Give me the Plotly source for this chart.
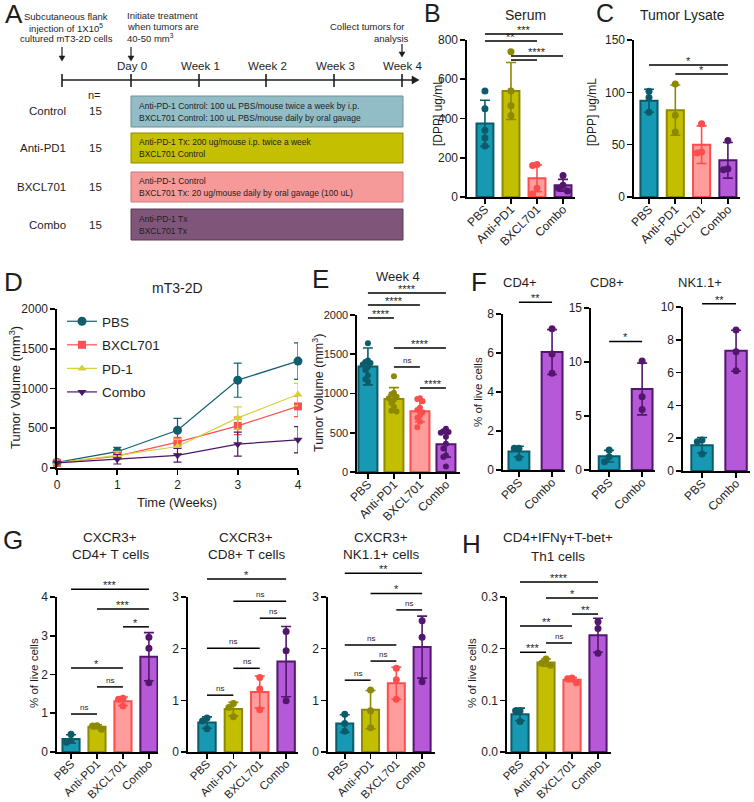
import plotly.graph_objects as go

W, H = 754, 802
FONT = "Arial, 'Liberation Sans', Helvetica, sans-serif"
INK = "#1e1e1e"

# ---------------- data ----------------
groups4 = ["PBS", "Anti-PD1", "BXCL701", "Combo"]
groups2 = ["PBS", "Combo"]

# A: study design
design_groups = ["Control", "Anti-PD1", "BXCL701", "Combo"]
design_n = ["15", "15", "15", "15"]
design_line1 = ["Anti-PD-1 Control: 100 uL PBS/mouse twice a week by i.p.",
                "Anti-PD-1 Tx: 200 ug/mouse i.p. twice a week",
                "Anti-PD-1 Control",
                "Anti-PD-1 Tx"]
design_line2 = ["BXCL701 Control: 100 uL PBS/mouse daily by oral gavage",
                "BXCL701 Control",
                "BXCL701 Tx: 20 ug/mouse daily by oral gavage (100 uL)",
                "BXCL701 Tx"]
timeline_labels = ["Day 0", "Week 1", "Week 2", "Week 3", "Week 4"]

# B: serum DPP
serum_mean = [375, 540, 95, 60]
serum_sd = [118, 145, 68, 30]
serum_pts = [[540, 450, 340, 300, 260], [740, 540, 465, 415], [165, 160, 45, 15], [110, 60, 45, 30]]
serum_sig = [(0, 3, 831, "***"), (0, 2, 795, "**"), (1, 3, 719, "****"), (1, 2, 698, "")]

# C: tumor lysate DPP
lysate_mean = [92, 83, 50, 35]
lysate_sd = [11, 24, 18, 17]
lysate_pts = [[101, 95, 81], [108, 78, 62], [70, 43, 42], [54, 27, 26]]
lysate_sig = [(0, 3, 126, "*"), (1, 3, 117.5, "*")]

# D: growth curves
weeks = [0, 1, 2, 3, 4]
d_names = ["PBS", "BXCL701", "PD-1", "Combo"]
vol_pbs = [70, 205, 475, 1105, 1345]
vol_pbs_sd = [15, 55, 150, 215, 230]
vol_bxcl = [65, 150, 325, 530, 775]
vol_bxcl_sd = [15, 40, 60, 110, 130]
vol_pd1 = [65, 160, 270, 630, 925]
vol_pd1_sd = [15, 50, 90, 140, 140]
vol_combo = [65, 110, 160, 300, 355]
vol_combo_sd = [15, 60, 85, 150, 165]

# E: week 4 volumes
wk4_mean = [1345, 930, 775, 355]
wk4_sd = [235, 145, 135, 165]
wk4_pts = [[1640, 1420, 1400, 1390, 1370, 1340, 1300, 1230, 1180, 1150],
           [1220, 1010, 990, 960, 940, 920, 880, 830, 780, 770],
           [940, 930, 900, 820, 790, 760, 720, 690, 640, 570],
           [550, 520, 510, 500, 450, 360, 300, 210, 190, 70]]
wk4_sig = [(0, 3, 2280, "****"), (0, 2, 2127, "****"), (0, 1, 1962, "****"),
           (1, 3, 1580, "****"), (1, 2, 1338, "ns"), (2, 3, 1070, "****")]

# F: immune cells
cd4_mean = [0.95, 6.05]
cd4_sd = [0.27, 1.15]
cd4_pts = [[1.11, 1.11, 0.63], [7.24, 5.95, 4.96]]
cd4_sig = [(0, 1, 8.6, "**")]
cd8_mean = [1.28, 7.5]
cd8_sd = [0.54, 2.4]
cd8_pts = [[1.85, 1.23, 0.77], [10.1, 6.79, 5.6]]
cd8_sig = [(0, 1, 11.9, "*")]
nk_mean = [1.57, 7.33]
nk_sd = [0.47, 1.25]
nk_pts = [[1.89, 1.79, 1.04], [8.6, 7.27, 6.12]]
nk_sig = [(0, 1, 10.2, "**")]

# G: CXCR3+ subsets
g_cd4_mean = [0.335, 0.65, 1.31, 2.46]
g_cd4_sd = [0.11, 0.05, 0.11, 0.62]
g_cd4_pts = [[0.46, 0.3, 0.25], [0.68, 0.67, 0.59], [1.39, 1.36, 1.19], [2.96, 2.68, 1.79]]
g_cd4_sig = [(0, 3, 4.2, "***"), (1, 3, 3.69, "***"), (2, 3, 3.23, "*"),
             (0, 2, 2.17, "*"), (1, 2, 1.68, "ns"), (0, 1, 0.98, "ns")]
g_cd8_mean = [0.57, 0.83, 1.16, 1.75]
g_cd8_sd = [0.11, 0.13, 0.31, 0.68]
g_cd8_pts = [[0.66, 0.6, 0.45], [0.94, 0.86, 0.68], [1.44, 1.22, 0.82], [2.33, 1.96, 0.99]]
g_cd8_sig = [(0, 3, 3.35, "*"), (1, 3, 2.92, "ns"), (2, 3, 2.59, "ns"),
             (0, 2, 2.01, "ns"), (1, 2, 1.62, "ns"), (0, 1, 1.1, "ns")]
g_nk_mean = [0.55, 0.82, 1.33, 2.03]
g_nk_sd = [0.17, 0.37, 0.31, 0.6]
g_nk_pts = [[0.73, 0.55, 0.4], [1.2, 0.8, 0.47], [1.62, 1.4, 1.02], [2.54, 2.22, 1.36]]
g_nk_sig = [(0, 3, 3.46, "**"), (1, 3, 3.07, "*"), (2, 3, 2.75, "ns"),
            (0, 2, 2.07, "ns"), (1, 2, 1.76, "ns"), (0, 1, 1.39, "ns")]

# H: Th1 cells
th1_mean = [0.073, 0.173, 0.14, 0.226]
th1_sd = [0.012, 0.007, 0.004, 0.033]
th1_pts = [[0.08, 0.08, 0.059], [0.18, 0.172, 0.168], [0.143, 0.142, 0.134], [0.252, 0.239, 0.191]]
th1_sig = [(0, 3, 0.329, "****"), (1, 3, 0.298, "*"), (2, 3, 0.267, "**"),
           (0, 2, 0.244, "**"), (1, 2, 0.211, "ns"), (0, 1, 0.193, "***")]

# ---------------- styles ----------------
FILL = {"PBS": "#1899b3", "Anti-PD1": "#c3bf00", "BXCL701": "#ff9d9d", "Combo": "#b659d8"}
EDGE = {"PBS": "#0c5b6b", "Anti-PD1": "#8d8900", "BXCL701": "#ff4d4d", "Combo": "#52176d"}
LINEC = {"PBS": "#0f5f6f", "BXCL701": "#ff5050", "PD-1": "#d4d13a", "Combo": "#4a1868"}
SYMB = {"PBS": "circle", "BXCL701": "square", "PD-1": "triangle-up", "Combo": "triangle-down"}
BOXFILL = ["#92bcc6", "#c4bf00", "#f59a98", "#7f557a"]
BOXEDGE = ["#6f8f97", "#8f8b00", "#c77c7a", "#5b3a57"]

fig = go.Figure()
axes = {}
shapes = []
annots = []


def ppx(x):
    return x / W


def ppy(y):
    return 1 - y / H


def label(x, y, s, size=11, xanchor="center", yanchor="middle", angle=0, color=INK):
    annots.append(dict(x=ppx(x), y=ppy(y), xref="paper", yref="paper", text=s, showarrow=False,
                       textangle=angle, xanchor=xanchor, yanchor=yanchor,
                       font=dict(family=FONT, size=size, color=color)))


def pline(x0, y0, x1, y1, color=INK, width=1.6):
    shapes.append(dict(type="line", xref="paper", yref="paper", x0=ppx(x0), y0=ppy(y0),
                       x1=ppx(x1), y1=ppy(y1), line=dict(color=color, width=width)))


def ppath(points):
    d = "M " + " L ".join(f"{ppx(x):.5f},{ppy(y):.5f}" for x, y in points) + " Z"
    shapes.append(dict(type="path", xref="paper", yref="paper", path=d, fillcolor=INK,
                       line=dict(color=INK, width=0.5)))


def down_arrow(x, y0, y1):
    pline(x, y0, x, y1 - 4, width=1.2)
    ppath([(x - 3, y1 - 5), (x + 3, y1 - 5), (x, y1)])


AXLINE = dict(showline=True, linecolor="black", linewidth=1.6, ticks="outside", ticklen=5,
              tickwidth=1.6, tickcolor="black", showgrid=False, zeroline=False, fixedrange=True)


def ax_names(k):
    s = "" if k == 1 else str(k)
    return "xaxis" + s, "yaxis" + s, "x" + s, "y" + s


def swarm(vals, span, dx):
    placed, xs = [], []
    for v in vals:
        used = {o for pv, o in placed if abs(pv - v) < span}
        for o in (0, -1, 1, -2, 2, -3, 3):
            if o not in used:
                break
        placed.append((v, o))
        xs.append(o * dx)
    return xs


def bar_panel(k, cats, means, sds, pts, sigs, box, xr, yr, ytv, bw=0.66, ms=7, dx=0.17,
              tickfmt=None, tfs=12, yfs=12):
    xa, ya, xid, yid = ax_names(k)
    x0, x1, yt, yb = box
    axes[xa] = dict(AXLINE, domain=[ppx(x0), ppx(x1)], range=xr, anchor=yid, tickmode="array",
                    tickvals=list(range(len(cats))), ticktext=cats, tickangle=-45,
                    ticklabelstandoff=-6,
                    tickfont=dict(family=FONT, size=tfs, color=INK))
    axes[ya] = dict(AXLINE, domain=[ppy(yb), ppy(yt)], range=yr, anchor=xid, tickmode="array",
                    tickvals=ytv, tickfont=dict(family=FONT, size=yfs, color=INK))
    if tickfmt:
        axes[ya]["tickformat"] = tickfmt
    span = 0.04 * (yr[1] - yr[0])
    for i, c in enumerate(cats):
        fig.add_trace(go.Bar(x=[i], y=[means[i]], width=bw, xaxis=xid, yaxis=yid, showlegend=False,
                             marker=dict(color=FILL[c], line=dict(color=EDGE[c], width=2)),
                             error_y=dict(type="data", array=[sds[i]], color=EDGE[c], thickness=1.6, width=5),
                             hoverinfo="skip"))
    for i, c in enumerate(cats):
        offs = swarm(pts[i], span, dx)
        fig.add_trace(go.Scatter(x=[i + o for o in offs], y=pts[i], mode="markers", xaxis=xid, yaxis=yid,
                                 showlegend=False, cliponaxis=False, hoverinfo="skip",
                                 marker=dict(color=EDGE[c], size=ms, line=dict(width=0))))
    d0 = ppy(yb)
    dh = (yb - yt) / H
    for i, j, v, lab in sigs:
        yv = d0 + (v - yr[0]) / (yr[1] - yr[0]) * dh
        shapes.append(dict(type="line", xref=xid, yref="paper", x0=i, x1=j, y0=yv, y1=yv,
                           line=dict(color="black", width=1.5)))
        if lab:
            star = "*" in lab
            annots.append(dict(x=(i + j) / 2, y=yv, xref=xid, yref="paper", text=lab, showarrow=False,
                               xanchor="center", yanchor="bottom", yshift=-4 if star else 0,
                               font=dict(family=FONT, size=11 if star else 8, color=INK)))


# ---------------- Panel A ----------------
label(3, 14, "A", size=26, xanchor="left")
label(66, 17, "Subcutaneous flank", 9.5)
label(66, 27.5, "injection of 1X10<sup>5</sup>", 9.5)
label(66, 38, "cultured mT3-2D cells", 9.5)
label(125, 16, "Initiate treatment", 9.5, xanchor="left")
label(125, 27, "when tumors are", 9.5, xanchor="left")
label(125, 38, "40-50 mm<sup>3</sup>", 9.5, xanchor="left")
label(367, 27, "Collect tumors for", 9.5)
label(391, 38, "analysis", 9.5)
down_arrow(62, 47, 61)
down_arrow(131, 47, 61)
down_arrow(402, 44, 57)
tick_x = [131, 199, 266, 334, 402]
pline(62, 80, 413, 80)
ppath([(412, 76), (412, 84), (419, 80)])
pline(62, 74, 62, 87)
for tx, tl in zip(tick_x, timeline_labels):
    pline(tx, 74, tx, 87)
    label(tx + 1, 66, tl, 11.5)
label(94, 95, "n=", 11)
row_y = [(96, 127), (133, 163), (172, 202), (209, 240)]
for (y0, y1), g, n, l1, l2, fc, ec in zip(row_y, design_groups, design_n, design_line1, design_line2,
                                           BOXFILL, BOXEDGE):
    shapes.append(dict(type="rect", xref="paper", yref="paper", x0=ppx(131), x1=ppx(403),
                       y0=ppy(y1), y1=ppy(y0), fillcolor=fc, line=dict(color=ec, width=1)))
    yc = (y0 + y1) / 2
    label(68, yc, g, 11.5, xanchor="right")
    label(95, yc, n, 11.5)
    label(137, yc - 6, l1, 8.5, xanchor="left")
    label(137, yc + 6, l2, 8.5, xanchor="left")

# ---------------- Panel B & C ----------------
label(432, 13, "B", size=25)
label(525, 15, "Serum", 14)
label(438, 112, "[DPP] ug/mL", 12, angle=-90)
bar_panel(1, groups4, serum_mean, serum_sd, serum_pts, serum_sig, (467, 575, 40, 197),
          [-0.69, 3.46], [0, 800], [0, 200, 400, 600, 800], bw=0.65)

label(605, 13, "C", size=25)
label(682, 15, "Tumor Lysate", 14)
label(592, 112, "[DPP] ug/mL", 12, angle=-90)
bar_panel(2, groups4, lysate_mean, lysate_sd, lysate_pts, lysate_sig, (634, 740, 40, 197),
          [-0.57, 3.46], [0, 150], [0, 50, 100, 150], bw=0.65)

# ---------------- Panel D ----------------
label(13, 282, "D", size=26)
label(177, 288, "mT3-2D", 14)
label(15, 388, "Tumor Volume (mm<sup>3</sup>)", 13, angle=-90)
label(177, 503, "Time (Weeks)", 13)
xa, ya, xid, yid = ax_names(3)
axes[xa] = dict(AXLINE, domain=[ppx(57), ppx(298)], range=[0, 4], anchor=yid, tickmode="array",
                tickvals=weeks, tickfont=dict(family=FONT, size=12, color=INK))
axes[ya] = dict(AXLINE, domain=[ppy(468), ppy(309)], range=[0, 2000], anchor=xid, tickmode="array",
                tickvals=[0, 500, 1000, 1500, 2000], tickfont=dict(family=FONT, size=12, color=INK))
d_vals = [vol_pbs, vol_bxcl, vol_pd1, vol_combo]
d_sds = [vol_pbs_sd, vol_bxcl_sd, vol_pd1_sd, vol_combo_sd]
for name, vals, sds in zip(d_names, d_vals, d_sds):
    col = LINEC[name]
    ms = 9 if name == "PBS" else 8
    fig.add_trace(go.Scatter(x=weeks, y=vals, name=name, mode="lines+markers", xaxis=xid, yaxis=yid,
                             legendgroup=name, cliponaxis=False, hoverinfo="skip",
                             line=dict(color=col, width=1.2),
                             marker=dict(symbol=SYMB[name], size=ms, color=col),
                             error_y=dict(type="data", array=sds, color=col, thickness=1.2, width=4)))

# ---------------- Panel E ----------------
label(320, 279, "E", size=26)
label(398, 276, "Week 4", 13)
label(318, 393, "Tumor Volume (mm<sup>3</sup>)", 12.5, angle=-90)
bar_panel(4, groups4, wk4_mean, wk4_sd, wk4_pts, wk4_sig, (357, 460, 315, 472),
          [-0.42, 3.54], [0, 2000], [0, 500, 1000, 1500, 2000], bw=0.73, ms=6, dx=0.1, yfs=11)

# ---------------- Panel F ----------------
label(479, 282, "F", size=26)
label(520, 283, "CD4+", 13)
label(607, 283, "CD8+", 13)
label(700, 283, "NK1.1+", 13)
label(478, 392, "% of live cells", 11.5, angle=-90)
bar_panel(5, groups2, cd4_mean, cd4_sd, cd4_pts, cd4_sig, (503, 565, 314, 470),
          [-0.48, 1.39], [0, 8], [0, 2, 4, 6, 8], bw=0.63, dx=0.14)
bar_panel(6, groups2, cd8_mean, cd8_sd, cd8_pts, cd8_sig, (591, 655, 308, 470),
          [-0.55, 1.39], [0, 15], [0, 5, 10, 15], bw=0.63, dx=0.14)
bar_panel(7, groups2, nk_mean, nk_sd, nk_pts, nk_sig, (683, 750, 307, 471),
          [-0.56, 1.41], [0, 10], [0, 2, 4, 6, 8, 10], bw=0.63, dx=0.14)

# ---------------- Panel G ----------------
label(13, 540, "G", size=26)
label(110, 537, "CXCR3+", 13.5)
label(110, 554, "CD4+ T cells", 13.5)
label(246, 537, "CXCR3+", 13.5)
label(246, 554, "CD8+ T cells", 13.5)
label(381, 537, "CXCR3+", 13.5)
label(381, 554, "NK1.1+ cells", 13.5)
label(34, 673, "% of live cells", 11.5, angle=-90)
bar_panel(8, groups4, g_cd4_mean, g_cd4_sd, g_cd4_pts, g_cd4_sig, (57, 158, 597, 752),
          [-0.54, 3.35], [0, 4], [0, 1, 2, 3, 4], tfs=11.5)
bar_panel(9, groups4, g_cd8_mean, g_cd8_sd, g_cd8_pts, g_cd8_sig, (188, 298, 597, 752),
          [-0.72, 3.45], [0, 3], [0, 1, 2, 3], tfs=11.5)
bar_panel(10, groups4, g_nk_mean, g_nk_sd, g_nk_pts, g_nk_sig, (328, 435, 597, 752),
          [-0.65, 3.5], [0, 3], [0, 1, 2, 3], tfs=11.5)

# ---------------- Panel H ----------------
label(471, 544, "H", size=26)
label(558, 537, "CD4+IFNγ+T-bet+", 13.5)
label(558, 556, "Th1 cells", 13.5)
label(472, 673, "% of live cells", 11.5, angle=-90)
bar_panel(11, groups4, th1_mean, th1_sd, th1_pts, th1_sig, (507, 611, 597, 752),
          [-0.5, 3.5], [0, 0.3], [0, 0.1, 0.2, 0.3], tickfmt=".1f", tfs=11.5)

fig.update_layout(
    template="none",
    width=W, height=H,
    margin=dict(l=0, r=0, t=0, b=0),
    paper_bgcolor="white", plot_bgcolor="rgba(0,0,0,0)",
    barmode="overlay",
    showlegend=True,
    legend=dict(x=ppx(62), y=ppy(306), xanchor="left", yanchor="top",
                font=dict(family=FONT, size=13.5, color=INK), bgcolor="rgba(0,0,0,0)",
                tracegroupgap=3, itemwidth=30),
    font=dict(family=FONT, color=INK),
    shapes=shapes,
    annotations=annots,
    **axes,
)

fig.write_html("out.html", config={"displayModeBar": False, "staticPlot": True},
               post_script="document.body.style.margin='0';document.body.style.overflow='hidden';")
